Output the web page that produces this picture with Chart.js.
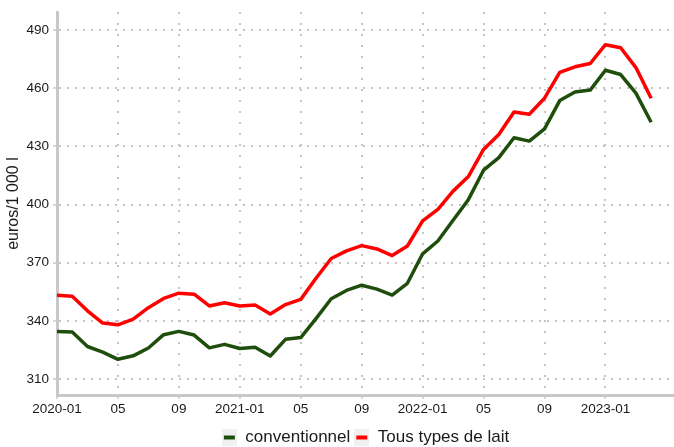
<!DOCTYPE html>
<html>
<head>
<meta charset="utf-8">
<script src="https://cdn.jsdelivr.net/npm/chart.js@4"></script>
<style>
  html, body { margin: 0; padding: 0; background: #fff; }
  #wrap { width: 674px; height: 447px; }
</style>
</head>
<body>
<div id="wrap"><canvas id="lait" width="674" height="447"></canvas></div>
<script>
// mois de 2020-01 à 2023-04
const mois = [
  '2020-01', '2020-02', '2020-03', '2020-04', '2020-05', '2020-06', '2020-07', '2020-08', '2020-09', '2020-10', '2020-11', '2020-12',
  '2021-01', '2021-02', '2021-03', '2021-04', '2021-05', '2021-06', '2021-07', '2021-08', '2021-09', '2021-10', '2021-11', '2021-12',
  '2022-01', '2022-02', '2022-03', '2022-04', '2022-05', '2022-06', '2022-07', '2022-08', '2022-09', '2022-10', '2022-11', '2022-12',
  '2023-01', '2023-02', '2023-03', '2023-04'
];

const conventionnel = [
  334.6, 334.3, 326.8, 323.9, 320.2, 322.0, 326.0, 332.9, 334.6, 332.7, 326.1, 327.9,
  325.8, 326.4, 321.9, 330.5, 331.4, 341.2, 351.4, 355.7, 358.4, 356.4, 353.3, 359.4,
  374.6, 381.2, 391.9, 402.5, 417.7, 424.2, 434.4, 432.7, 439.0, 453.6, 458.0, 459.0,
  469.2, 467.0, 457.4, 442.4
];

const tousTypes = [
  353.2, 352.7, 345.2, 338.9, 338.0, 340.9, 346.8, 351.6, 354.3, 353.8, 347.7, 349.4,
  347.7, 348.2, 343.6, 348.4, 351.1, 362.0, 372.2, 376.1, 378.8, 377.1, 373.7, 378.6,
  391.6, 397.5, 406.9, 414.4, 428.4, 436.1, 447.7, 446.5, 454.8, 468.1, 471.0, 472.7,
  482.4, 480.8, 470.6, 454.8
];

const yTicks = [310, 340, 370, 400, 430, 460, 490];

const police = "'Liberation Sans', Arial, sans-serif";

// petite clé de légende façon ggplot : carré gris + trait
function cle(couleur) {
  const c = document.createElement('canvas');
  c.width = 15;
  c.height = 17;
  const g = c.getContext('2d');
  g.fillStyle = '#f0f0f0';
  g.fillRect(0, 0, 15, 17);
  g.strokeStyle = couleur;
  g.lineWidth = 4;
  g.beginPath();
  g.moveTo(2, 8.5);
  g.lineTo(13, 8.5);
  g.stroke();
  return c;
}

const points = serie => mois.map((m, i) => ({ x: i, y: serie[i] }));

new Chart(document.getElementById('lait'), {
  type: 'line',
  data: {
    datasets: [
      {
        label: 'conventionnel',
        data: points(conventionnel),
        borderColor: '#1f4e0c',
        borderWidth: 3.5,
        cle: cle('#1f4e0c')
      },
      {
        label: 'Tous types de lait',
        data: points(tousTypes),
        borderColor: '#ff0000',
        borderWidth: 3.5,
        cle: cle('#ff0000')
      }
    ]
  },
  options: {
    responsive: false,
    animation: false,
    layout: { padding: { top: 8, right: 0, left: 0, bottom: -9 } },
    elements: {
      point: { radius: 0 },
      line: { tension: 0, borderJoinStyle: 'round', borderCapStyle: 'butt' }
    },
    plugins: {
      tooltip: { enabled: false },
      legend: {
        position: 'bottom',
        fullSize: false,
        labels: {
          usePointStyle: true,
          boxWidth: 15,
          boxHeight: 17,
          padding: 4,
          color: '#1a1a1a',
          font: { family: police, size: 17 },
          generateLabels: chart => chart.data.datasets.map((d, i) => ({
            text: d.label,
            pointStyle: d.cle,
            fontColor: '#1a1a1a',
            datasetIndex: i,
            lineWidth: 0,
            hidden: false
          }))
        }
      }
    },
    scales: {
      x: {
        type: 'linear',
        min: 0,
        max: 40.5,
        afterBuildTicks: s => {
          s.ticks = mois.map((m, i) => i).filter(i => i % 4 === 0).map(v => ({ value: v }));
        },
        afterFit: s => { s.height = 30; },
        ticks: {
          autoSkip: false,
          maxRotation: 0,
          padding: 2,
          color: '#1a1a1a',
          font: { family: police, size: 13.5 },
          callback: v => {
            const m = mois[v];
            return m.endsWith('-01') ? m : m.slice(5);
          }
        },
        grid: {
          color: '#c4c4c4',
          lineWidth: 2,
          tickLength: 4,
          tickColor: '#b0b0b0',
          tickWidth: 1
        },
        border: { display: true, color: '#c8c8c8', width: 3, dash: [2, 9] }
      },
      y: {
        min: 301.8,
        max: 499.2,
        afterBuildTicks: s => {
          s.ticks = yTicks.map(v => ({ value: v }));
        },
        afterFit: s => { s.width = 57; },
        ticks: {
          padding: 4,
          color: '#1a1a1a',
          font: { family: police, size: 13.5 }
        },
        grid: {
          color: '#c4c4c4',
          lineWidth: 2,
          tickLength: 4,
          tickColor: '#b0b0b0',
          tickWidth: 1
        },
        border: { display: true, color: '#c8c8c8', width: 3, dash: [2, 6] },
        title: {
          display: true,
          text: 'euros/1 000 l',
          color: '#1a1a1a',
          font: { family: police, size: 16 },
          padding: { top: 4, bottom: 0 }
        }
      }
    }
  }
});
</script>
</body>
</html>
